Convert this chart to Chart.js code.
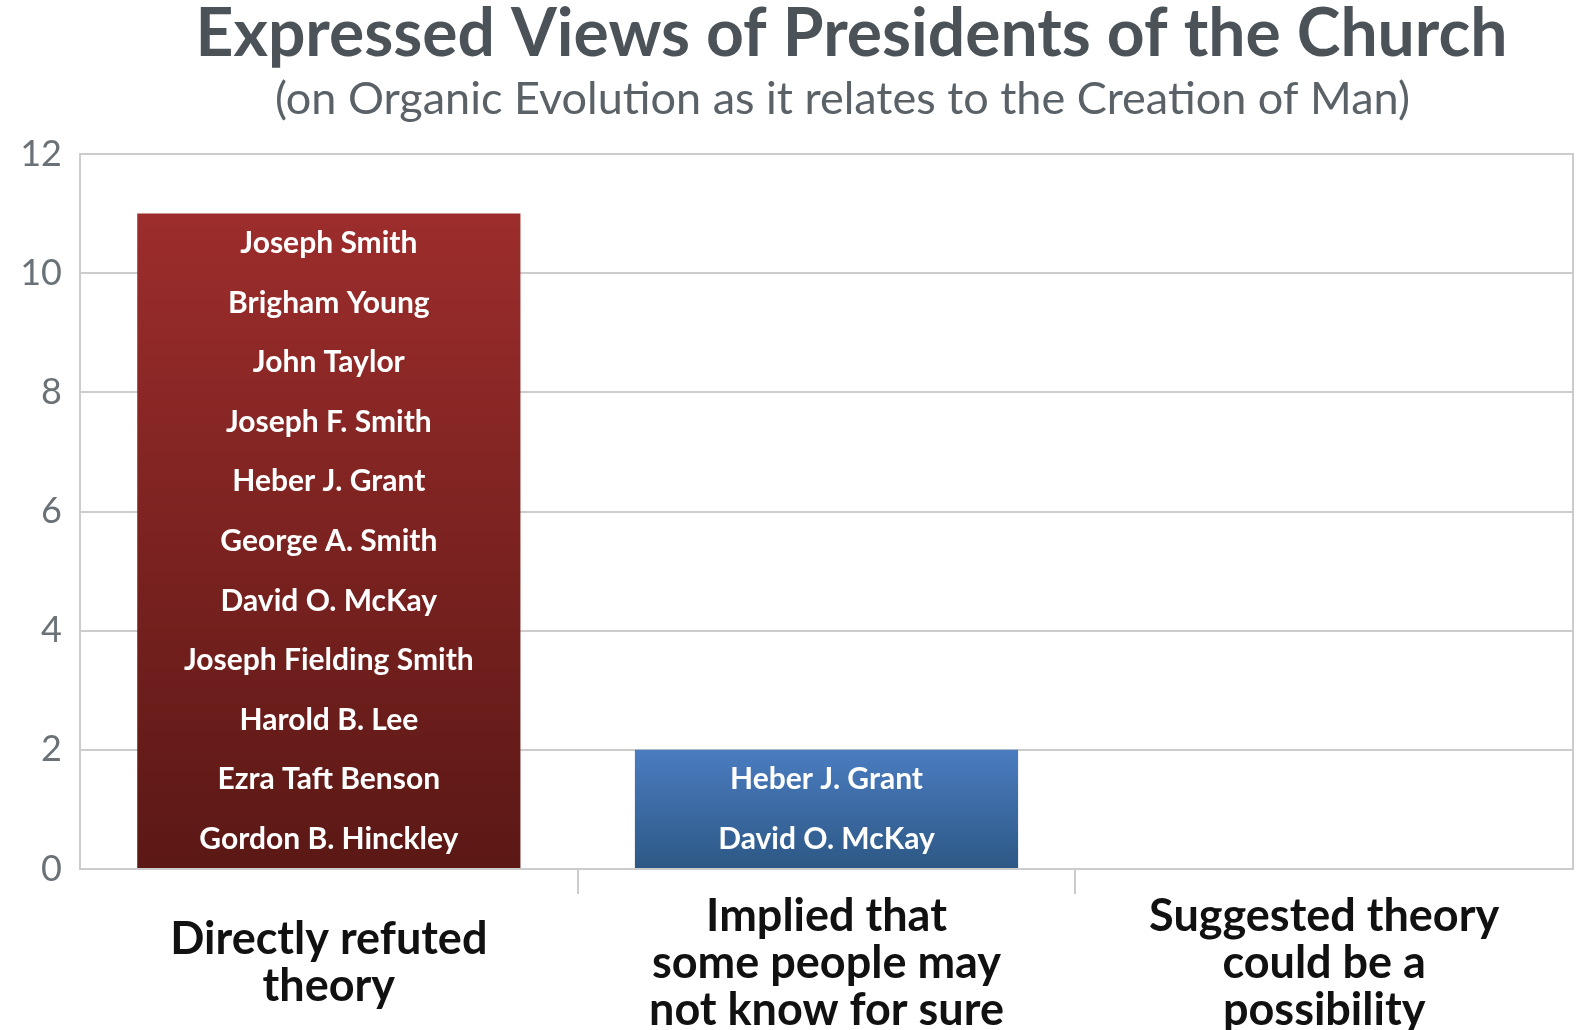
<!DOCTYPE html>
<html>
<head>
<meta charset="utf-8">
<title>Expressed Views of Presidents of the Church</title>
<script src="https://cdn.jsdelivr.net/npm/chart.js@4.4.0/dist/chart.umd.min.js"></script>
<style>
  html, body { margin: 0; padding: 0; background: #fff; }
</style>
</head>
<body>
<canvas id="chart" width="1585" height="1030"></canvas>
<script>
// categories along the bottom (multi-line labels)
const categories = [
  ['Directly refuted', 'theory'],
  ['Implied that', 'some people may', 'not know for sure'],
  ['Suggested theory', 'could be a', 'possibility']
];

// number of presidents in each category
const counts = [11, 2, 0];

// names written inside each bar, top to bottom
const refutedNames = [
  'Joseph Smith', 'Brigham Young', 'John Taylor', 'Joseph F. Smith',
  'Heber J. Grant', 'George A. Smith', 'David O. McKay',
  'Joseph Fielding Smith', 'Harold B. Lee', 'Ezra Taft Benson',
  'Gordon B. Hinckley'
];
const impliedNames = ['Heber J. Grant', 'David O. McKay'];
const suggestedNames = [];
const barNames = [refutedNames, impliedNames, suggestedNames];

// y axis
const yMin = 0;
const yMax = 12;
const yStep = 2;

const titleText = 'Expressed Views of Presidents of the Church';
const subtitleText = '(on Organic Evolution as it relates to the Creation of Man)';

const gridGray = '#cccccc';
const barTop = ['#9c2d2c', '#4a7cc0', '#4a7cc0'];
const barBottom = ['#5b1815', '#2d5885', '#2d5885'];

// vertical gradient from the top of each bar down to zero
function barGradient(context) {
  const chart = context.chart;
  if (!chart.chartArea) return barTop[context.dataIndex];
  const y = chart.scales.y;
  const top = y.getPixelForValue(counts[context.dataIndex]);
  const bottom = y.getPixelForValue(0);
  const g = chart.ctx.createLinearGradient(0, top, 0, bottom);
  g.addColorStop(0, barTop[context.dataIndex]);
  g.addColorStop(1, barBottom[context.dataIndex]);
  return g;
}

// write the names inside the bars, one per unit of height
const nameLabels = {
  id: 'nameLabels',
  afterDatasetsDraw(chart) {
    const { ctx, scales: { x, y } } = chart;
    ctx.save();
    ctx.font = 'bold 30px Lato';
    ctx.fillStyle = '#ffffff';
    ctx.textAlign = 'center';
    ctx.textBaseline = 'middle';
    barNames.forEach((names, i) => {
      names.forEach((name, j) => {
        ctx.fillText(name, x.getPixelForValue(i), y.getPixelForValue(counts[i] - j - 0.5));
      });
    });
    ctx.restore();
  }
};

// the headings sit a little right of the plot centre in the original
const nudgeTitles = {
  id: 'nudgeTitles',
  afterLayout(chart) {
    chart.boxes.forEach(box => {
      if (!box.options) return;
      if (box.options.text === titleText) box.left += 50;
      if (box.options.text === subtitleText) box.left += 32;
    });
  }
};

new Chart(document.getElementById('chart'), {
  type: 'bar',
  data: {
    labels: categories,
    datasets: [{
      data: counts,
      backgroundColor: barGradient,
      borderWidth: 0,
      categoryPercentage: 1,
      barPercentage: 0.77
    }]
  },
  options: {
    responsive: false,
    animation: false,
    layout: { padding: { left: 0, right: 12, top: 0, bottom: 0 } },
    plugins: {
      legend: { display: false },
      tooltip: { enabled: false },
      title: {
        display: true,
        text: titleText,
        fullSize: false,
        color: '#4b5359',
        font: { family: 'Lato', size: 66, weight: 'bold', lineHeight: 1.0 },
        padding: { top: 2, bottom: 0 }
      },
      subtitle: {
        display: true,
        text: subtitleText,
        fullSize: false,
        color: '#5a6268',
        font: { family: 'Lato', size: 45, weight: 'normal', lineHeight: 1.2 },
        padding: { top: 4, bottom: 28 }
      }
    },
    scales: {
      x: {
        grid: {
          drawOnChartArea: false,
          tickLength: 25,
          lineWidth: 2,
          tickColor: (ctx) => (ctx.index === 1 || ctx.index === 2) ? gridGray : 'rgba(0,0,0,0)'
        },
        border: { color: gridGray, width: 2 },
        ticks: {
          color: '#111111',
          crossAlign: 'center',
          padding: 22,
          font: { family: 'Lato', size: 45, weight: 'bold', lineHeight: 1.05 }
        },
        afterFit: (scale) => { scale.height = 161; }
      },
      y: {
        min: yMin,
        max: yMax,
        ticks: {
          stepSize: yStep,
          color: '#6a7278',
          padding: 18,
          font: { family: 'Lato', size: 36 }
        },
        grid: { color: gridGray, lineWidth: 2, drawTicks: false },
        border: { color: gridGray, width: 2 },
        afterFit: (scale) => { scale.width = 80; }
      },
      y2: {
        position: 'right',
        min: yMin,
        max: yMax,
        ticks: { display: false },
        grid: { display: false },
        border: { color: gridGray, width: 2 },
        afterFit: (scale) => { scale.width = 0; }
      }
    }
  },
  plugins: [nameLabels, nudgeTitles]
});
</script>
</body>
</html>
